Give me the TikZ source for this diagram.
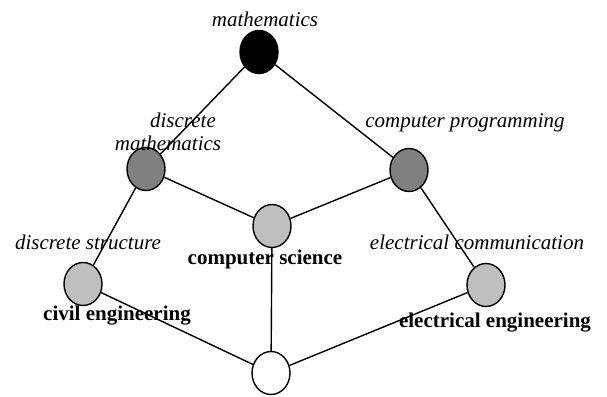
\documentclass[tikz,border=0pt]{standalone}
\usepackage{fontspec}
\setmainfont{Liberation Serif}
\usetikzlibrary{shapes.geometric}
\begin{document}
\begin{tikzpicture}[x=1pt,y=-1pt,
  vert/.style={draw=black, ellipse, line width=1.4pt, minimum width=38pt, minimum height=43pt, inner sep=0pt},
  blackv/.style={vert, fill=black},
  darkv/.style={vert, fill=black!50},
  lightv/.style={vert, fill=black!25},
  whitev/.style={vert, fill=white},
  ilab/.style={font=\fontsize{21}{24}\selectfont\itshape, inner sep=0pt, anchor=base},
  blab/.style={font=\fontsize{21}{24}\selectfont\bfseries, inner sep=0pt, anchor=base},
  edge/.style={line width=1.4pt}]
\useasboundingbox (0,0) rectangle (607,396);
\node[blackv] (math) at (259,52) {};
\node[darkv] (dm) at (146,169) {};
\node[darkv] (cp) at (409,170) {};
\node[lightv] (cs) at (272,226) {};
\node[lightv] (civ) at (83,284) {};
\node[lightv] (ee) at (486,285) {};
\node[whitev] (bot) at (271,373) {};
\draw[edge] (math) -- (dm);
\draw[edge] (math) -- (cp);
\draw[edge] (dm) -- (cs);
\draw[edge] (cp) -- (cs);
\draw[edge] (dm) -- (civ);
\draw[edge] (cp) -- (ee);
\draw[edge] (civ) -- (bot);
\draw[edge] (cs) -- (bot);
\draw[edge] (ee) -- (bot);
\node[ilab] (tmath) at (265,27) {mathematics};
\node[ilab] (tdm1) at (183,127) {discrete};
\node[ilab] (tdm2) at (168,150) {mathematics};
\node[ilab] (tcp) at (465,127) {computer programming};
\node[ilab] (tds) at (88,249) {discrete structure};
\node[blab] (tciv) at (117,320) {civil engineering};
\node[blab] (tcs) at (265,264) {computer science};
\node[ilab] (tec) at (477,249) {electrical communication};
\node[blab] (tee) at (495,327) {electrical engineering};
\end{tikzpicture}
\end{document}
